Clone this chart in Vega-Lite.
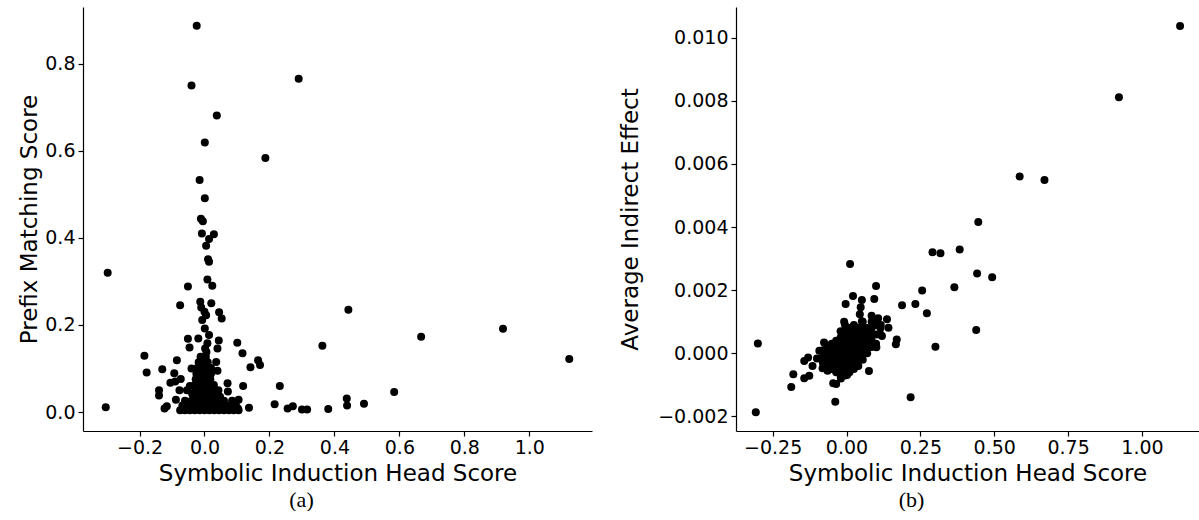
{
  "$schema": "https://vega.github.io/schema/vega-lite/v6.json",
  "padding": {"left": 18, "top": 7, "right": 0, "bottom": 0},
  "spacing": 27,
  "background": "white",
  "config": {
    "view": {"stroke": null},
    "font": "DejaVu Sans",
    "axis": {"labelFont": "DejaVu Sans", "titleFont": "DejaVu Sans", "labelFontSize": 19, "titleFontSize": 23, "titleFontWeight": "normal", "labelColor": "#000000", "titleColor": "#000000", "domainColor": "#000000", "tickColor": "#000000", "tickSize": 5, "labelPadding": 3, "grid": false, "domainWidth": 1.2, "tickWidth": 1.2, "labelFlush": false, "labelOverlap": false},
    "axisX": {"labelPadding": 2, "titlePadding": 5},
    "title": {"font": "Liberation Serif", "fontSize": 22, "fontWeight": "normal", "color": "#000000", "offset": 5}
  },
  "datasets": {
    "prefix": [
      {"score":1.123,"pm":0.122},{"score":0.919,"pm":0.191},{"score":0.667,"pm":0.173},{"score":0.584,"pm":0.046},{"score":0.491,"pm":0.019},{"score":0.443,"pm":0.235},{"score":0.438,"pm":0.031},{"score":0.439,"pm":0.015},{"score":0.363,"pm":0.152},{"score":0.381,"pm":0.007},{"score":0.300,"pm":0.006},{"score":0.316,"pm":0.006},{"score":0.290,"pm":0.765},{"score":0.272,"pm":0.013},{"score":0.256,"pm":0.008},{"score":0.232,"pm":0.060},{"score":0.216,"pm":0.018},{"score":0.1875,"pm":0.583},{"score":0.171,"pm":0.108},{"score":0.165,"pm":0.119},{"score":0.1415,"pm":0.103},{"score":0.137,"pm":0.010},{"score":0.117,"pm":0.135},{"score":0.119,"pm":0.060},{"score":0.101,"pm":0.159},{"score":0.103,"pm":0.008},{"score":0.105,"pm":0.028},{"score":0.071,"pm":0.066},{"score":0.072,"pm":0.047},{"score":0.048,"pm":0.035},
      {"score":-0.298,"pm":0.320},{"score":-0.304,"pm":0.011},{"score":-0.185,"pm":0.129},{"score":-0.178,"pm":0.091},{"score":-0.130,"pm":0.098},{"score":-0.140,"pm":0.050},{"score":-0.140,"pm":0.038},{"score":-0.123,"pm":0.008},{"score":-0.116,"pm":0.013},{"score":-0.093,"pm":0.089},{"score":-0.105,"pm":0.067},{"score":-0.090,"pm":0.070},{"score":-0.085,"pm":0.119},{"score":-0.075,"pm":0.245},{"score":-0.073,"pm":0.076},{"score":-0.077,"pm":0.050},{"score":-0.088,"pm":0.028},{"score":-0.054,"pm":0.050},{"score":-0.051,"pm":0.288},{"score":-0.051,"pm":0.168},{"score":-0.046,"pm":0.148},
      {"score":-0.040,"pm":0.750},{"score":-0.024,"pm":0.887},{"score":-0.015,"pm":0.533},{"score":0.001,"pm":0.619},{"score":0.038,"pm":0.681},{"score":0.001,"pm":0.491},{"score":-0.011,"pm":0.444},{"score":-0.005,"pm":0.438},{"score":-0.008,"pm":0.410},{"score":0.029,"pm":0.408},{"score":0.014,"pm":0.397},{"score":0.005,"pm":0.382},{"score":0.011,"pm":0.351},{"score":0.014,"pm":0.345},{"score":0.009,"pm":0.304},{"score":0.024,"pm":0.290},{"score":-0.013,"pm":0.253},{"score":0.021,"pm":0.250},{"score":0.000,"pm":0.230},{"score":0.045,"pm":0.229},{"score":0.053,"pm":0.215},{"score":-0.007,"pm":0.211},{"score":0.001,"pm":0.192},{"score":-0.019,"pm":0.169},{"score":0.014,"pm":0.177},{"score":0.044,"pm":0.164},{"score":0.040,"pm":0.146},{"score":0.009,"pm":0.158},{"score":0.002,"pm":0.146},{"score":-0.010,"pm":0.240},{"score":0.005,"pm":0.222},
      {"score":-0.030,"pm":0.036},{"score":-0.015,"pm":0.036},{"score":0.000,"pm":0.036},{"score":0.015,"pm":0.036},{"score":0.030,"pm":0.036},
      {"score":-0.028,"pm":0.049},{"score":-0.013,"pm":0.049},{"score":0.002,"pm":0.049},{"score":0.017,"pm":0.049},{"score":0.031,"pm":0.049},
      {"score":-0.030,"pm":0.062},{"score":-0.015,"pm":0.062},{"score":0.000,"pm":0.062},{"score":0.015,"pm":0.062},{"score":0.029,"pm":0.062},
      {"score":-0.027,"pm":0.075},{"score":-0.012,"pm":0.075},{"score":0.003,"pm":0.075},{"score":0.018,"pm":0.075},
      {"score":-0.025,"pm":0.088},{"score":-0.010,"pm":0.088},{"score":0.005,"pm":0.088},{"score":0.020,"pm":0.088},
      {"score":-0.022,"pm":0.101},{"score":-0.008,"pm":0.101},{"score":0.006,"pm":0.101},{"score":0.020,"pm":0.101},
      {"score":-0.018,"pm":0.114},{"score":-0.004,"pm":0.114},{"score":0.010,"pm":0.114},
      {"score":-0.012,"pm":0.127},{"score":0.004,"pm":0.127},{"score":0.006,"pm":0.138},
      {"score":-0.045,"pm":0.060},{"score":-0.040,"pm":0.100},{"score":0.040,"pm":0.095},{"score":0.043,"pm":0.050},{"score":0.036,"pm":0.115},{"score":-0.038,"pm":0.042},
      {"score":-0.075,"pm":0.004},{"score":-0.060,"pm":0.004},{"score":-0.045,"pm":0.004},{"score":-0.030,"pm":0.004},{"score":-0.015,"pm":0.004},{"score":0.000,"pm":0.004},{"score":0.015,"pm":0.004},{"score":0.030,"pm":0.004},{"score":0.045,"pm":0.004},{"score":0.060,"pm":0.004},{"score":0.075,"pm":0.004},{"score":0.090,"pm":0.004},{"score":0.105,"pm":0.004},
      {"score":-0.068,"pm":0.015},{"score":-0.053,"pm":0.015},{"score":-0.038,"pm":0.015},{"score":-0.023,"pm":0.015},{"score":-0.008,"pm":0.015},{"score":0.007,"pm":0.015},{"score":0.022,"pm":0.015},{"score":0.037,"pm":0.015},{"score":0.052,"pm":0.015},{"score":0.067,"pm":0.015},{"score":0.082,"pm":0.015},{"score":0.097,"pm":0.015},
      {"score":-0.060,"pm":0.026},{"score":-0.040,"pm":0.026},{"score":-0.020,"pm":0.026},{"score":0.000,"pm":0.026},{"score":0.020,"pm":0.026},{"score":0.040,"pm":0.026},{"score":0.060,"pm":0.026},{"score":0.085,"pm":0.026}
    ],
    "aie": [
      {"score":1.129,"aie":0.01037},{"score":0.922,"aie":0.00811},{"score":0.586,"aie":0.0056},{"score":0.670,"aie":0.00549},{"score":0.446,"aie":0.00416},{"score":0.383,"aie":0.00329},{"score":0.291,"aie":0.0032},{"score":0.318,"aie":0.00317},{"score":0.442,"aie":0.00253},{"score":0.493,"aie":0.00241},{"score":0.365,"aie":0.00209},{"score":0.256,"aie":0.00199},{"score":0.188,"aie":0.00152},{"score":0.233,"aie":0.00156},{"score":0.272,"aie":0.00127},{"score":0.439,"aie":0.00074},{"score":0.301,"aie":0.00021},{"score":0.217,"aie":-0.00139},{"score":-0.300,"aie":0.00031},{"score":-0.307,"aie":-0.00187},
      {"score":0.012,"aie":0.00283},{"score":0.100,"aie":0.00213},{"score":0.022,"aie":0.00182},{"score":0.094,"aie":0.00172},{"score":0.052,"aie":0.00169},{"score":-0.003,"aie":0.00156},{"score":0.048,"aie":0.00146},{"score":0.045,"aie":0.00124},{"score":0.085,"aie":0.00119},{"score":0.107,"aie":0.00111},{"score":0.137,"aie":0.00108},{"score":0.052,"aie":0.00102},{"score":-0.008,"aie":0.00100},{"score":0.142,"aie":0.00081},{"score":0.116,"aie":0.00090},{"score":0.120,"aie":0.00055},{"score":0.170,"aie":0.00044},{"score":0.167,"aie":0.00029},{"score":0.101,"aie":0.00019},{"score":0.076,"aie":-0.00056},
      {"score":-0.038,"aie":-0.00153},{"score":-0.045,"aie":-0.00095},{"score":-0.035,"aie":-0.00097},{"score":-0.019,"aie":-0.00080},{"score":0.002,"aie":-0.00069},{"score":-0.187,"aie":-0.00107},{"score":-0.180,"aie":-0.00066},{"score":-0.143,"aie":-0.00079},{"score":-0.126,"aie":-0.00071},{"score":-0.143,"aie":-0.00024},{"score":-0.130,"aie":-0.00013},{"score":-0.115,"aie":-0.00040},{"score":-0.100,"aie":-0.00016},{"score":-0.092,"aie":0.00008},{"score":-0.076,"aie":0.00034},{"score":-0.081,"aie":-0.00047},{"score":-0.064,"aie":-0.00055},
      {"score":-0.080,"aie":-0.0003},{"score":-0.080,"aie":-0.0001},{"score":-0.080,"aie":0.0001},
      {"score":-0.065,"aie":-0.0004},{"score":-0.065,"aie":-0.0002},{"score":-0.065,"aie":0.0},{"score":-0.065,"aie":0.0002},
      {"score":-0.050,"aie":-0.0005},{"score":-0.050,"aie":-0.0003},{"score":-0.050,"aie":-0.0001},{"score":-0.050,"aie":0.0001},{"score":-0.050,"aie":0.0003},
      {"score":-0.035,"aie":-0.0006},{"score":-0.035,"aie":-0.0004},{"score":-0.035,"aie":-0.0002},{"score":-0.035,"aie":0.0},{"score":-0.035,"aie":0.0002},{"score":-0.035,"aie":0.0004},
      {"score":-0.020,"aie":-0.0007},{"score":-0.020,"aie":-0.0005},{"score":-0.020,"aie":-0.0003},{"score":-0.020,"aie":-0.0001},{"score":-0.020,"aie":0.0001},{"score":-0.020,"aie":0.0003},{"score":-0.020,"aie":0.0005},{"score":-0.020,"aie":0.0007},
      {"score":-0.005,"aie":-0.0007},{"score":-0.005,"aie":-0.0005},{"score":-0.005,"aie":-0.0003},{"score":-0.005,"aie":-0.0001},{"score":-0.005,"aie":0.0001},{"score":-0.005,"aie":0.0003},{"score":-0.005,"aie":0.0005},{"score":-0.005,"aie":0.0007},{"score":-0.005,"aie":0.0009},
      {"score":0.010,"aie":-0.0006},{"score":0.010,"aie":-0.0004},{"score":0.010,"aie":-0.0002},{"score":0.010,"aie":0.0},{"score":0.010,"aie":0.0002},{"score":0.010,"aie":0.0004},{"score":0.010,"aie":0.0006},{"score":0.010,"aie":0.0008},
      {"score":0.025,"aie":-0.0005},{"score":0.025,"aie":-0.0003},{"score":0.025,"aie":-0.0001},{"score":0.025,"aie":0.0001},{"score":0.025,"aie":0.0003},{"score":0.025,"aie":0.0005},{"score":0.025,"aie":0.0007},{"score":0.025,"aie":0.0009},
      {"score":0.040,"aie":-0.0004},{"score":0.040,"aie":-0.0002},{"score":0.040,"aie":0.0},{"score":0.040,"aie":0.0002},{"score":0.040,"aie":0.0004},{"score":0.040,"aie":0.0006},{"score":0.040,"aie":0.0008},
      {"score":0.055,"aie":-0.0002},{"score":0.055,"aie":0.0},{"score":0.055,"aie":0.0002},{"score":0.055,"aie":0.0004},{"score":0.055,"aie":0.0006},{"score":0.055,"aie":0.0008},{"score":0.055,"aie":0.0010},
      {"score":0.070,"aie":0.0},{"score":0.070,"aie":0.0002},{"score":0.070,"aie":0.0004},{"score":0.070,"aie":0.0006},{"score":0.070,"aie":0.0008},
      {"score":0.085,"aie":0.0002},{"score":0.085,"aie":0.0004},{"score":0.085,"aie":0.0006},{"score":0.085,"aie":0.0008},{"score":0.085,"aie":0.0010},
      {"score":0.100,"aie":0.0003},{"score":0.100,"aie":0.0006},{"score":0.100,"aie":0.0009},
      {"score":0.115,"aie":0.0006},{"score":0.115,"aie":0.0008}
    ]
  },
  "hconcat": [
    {
      "width": 509,
      "height": 424,
      "data": {"name": "prefix"},
      "mark": {"type": "circle", "size": 64, "color": "#000000", "opacity": 1},
      "encoding": {
        "x": {"field": "score", "type": "quantitative", "scale": {"domain": [-0.374, 1.193], "nice": false, "zero": false}, "axis": {"title": "Symbolic Induction Head Score", "values": [-0.2, 0, 0.2, 0.4, 0.6, 0.8, 1.0], "format": ".1f"}},
        "y": {"field": "pm", "type": "quantitative", "scale": {"domain": [-0.0436, 0.93], "nice": false, "zero": false}, "axis": {"title": "Prefix Matching Score", "values": [0, 0.2, 0.4, 0.6, 0.8], "format": ".1f", "titlePadding": 3}}
      },
      "title": {"text": "(a)", "orient": "bottom", "anchor": "middle", "dx": -36}
    },
    {
      "width": 463,
      "height": 424,
      "data": {"name": "aie"},
      "mark": {"type": "circle", "size": 64, "color": "#000000", "opacity": 1},
      "encoding": {
        "x": {"field": "score", "type": "quantitative", "scale": {"domain": [-0.374, 1.193], "nice": false, "zero": false}, "axis": {"title": "Symbolic Induction Head Score", "values": [-0.25, 0, 0.25, 0.5, 0.75, 1.0], "format": ".2f"}},
        "y": {"field": "aie", "type": "quantitative", "scale": {"domain": [-0.00246, 0.01097], "nice": false, "zero": false}, "axis": {"title": "Average Indirect Effect", "values": [-0.002, 0, 0.002, 0.004, 0.006, 0.008, 0.01], "format": ".3f", "titlePadding": 15}}
      },
      "title": {"text": "(b)", "orient": "bottom", "anchor": "middle", "dx": -56}
    }
  ]
}
